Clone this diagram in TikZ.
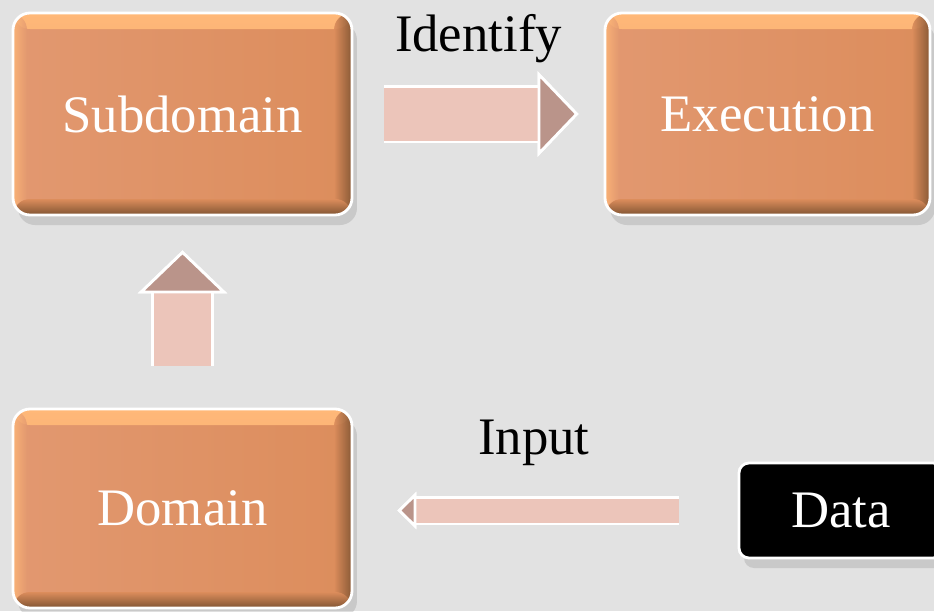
\documentclass[tikz,border=0pt]{standalone}
\usepackage{fontspec}
\setmainfont{Liberation Serif}
\usetikzlibrary{arrows.meta, positioning, calc, shadows}
\definecolor{paper}{RGB}{226, 226, 226}
\definecolor{boxleft}{RGB}{226, 152, 112}
\definecolor{boxright}{RGB}{220, 141, 92}
\definecolor{boxhigh}{RGB}{255, 184, 120}
\definecolor{boxlow}{RGB}{128, 84, 50}
\definecolor{arrowpink}{RGB}{236, 197, 186}
\definecolor{arrowtan}{RGB}{186, 148, 138}
\newcommand{\stagefont}{\fontsize{15}{18}\selectfont}

\tikzset{
  stage/.style={rounded corners=1.7mm, draw=white, line width=0.8pt,
    left color=boxleft, right color=boxright, text=white, font=\stagefont,
    minimum width=3.39cm, minimum height=2.02cm, inner sep=0pt,
    drop shadow={shadow xshift=0.5mm, shadow yshift=-1mm, opacity=0.25},
    path picture={
      \shade[top color=boxhigh, bottom color=boxleft]
        (path picture bounding box.north west) rectangle ([yshift=-1.6mm]path picture bounding box.north east);
      \shade[left color=boxhigh, right color=boxleft, opacity=0.8]
        (path picture bounding box.north west) rectangle ([xshift=1.4mm]path picture bounding box.south west);
      \shade[left color=boxright, right color=boxlow, opacity=0.9]
        ([xshift=-1.8mm]path picture bounding box.north east) rectangle (path picture bounding box.south east);
      \shade[top color=boxright, bottom color=boxlow]
        ([yshift=1.6mm]path picture bounding box.south west) rectangle (path picture bounding box.south east);
    }},
  source/.style={rounded corners=1mm, draw=white, line width=0.8pt, fill=black,
    text=white, font=\stagefont, minimum width=2.04cm, minimum height=0.95cm, inner sep=0pt,
    drop shadow={shadow xshift=0.5mm, shadow yshift=-1mm, opacity=0.25}},
  flowlabel/.style={font=\stagefont, text=black, inner sep=0pt, outer sep=0pt},
  fatarrow/.style n args={3}{line width=#1, draw=arrowpink,
    -{Triangle[length=#3, width=#2, line width=0.8pt, color=white, fill=arrowtan]},
    preaction={draw=white, line width=#1+1.6pt}}
}

\begin{document}
\begin{tikzpicture}
  \useasboundingbox (0,0) rectangle (9.34,6.11);
  \fill[paper] (0,0) rectangle (9.34,6.11);

  \node[stage] (sub) at (1.825, 4.97) {Subdomain};
  \node[stage, minimum width=3.25cm] (exe) at (7.675, 4.97) {Execution};
  \node[stage, minimum height=1.99cm] (dom) at (1.825, 1.025) {Domain};
  \node[source] (data) at (8.41, 1.005) {Data};

  \draw[fatarrow={0.53cm}{0.85cm}{0.41cm}, shorten <=0.31cm, shorten >=0.25cm]
    (sub) -- node[flowlabel, above=0.51cm] (identify) {Identify} (exe);
  \draw[fatarrow={0.57cm}{0.89cm}{0.43cm}, shorten <=0.42cm, shorten >=0.34cm]
    (dom) -- (sub);
  \draw[fatarrow={0.24cm}{0.37cm}{0.19cm}, shorten <=0.59cm, shorten >=0.44cm]
    (data.west) -- node[flowlabel, pos=0.53, above=0.45cm] (input) {Input} (data.west -| dom.east);
\end{tikzpicture}
\end{document}
